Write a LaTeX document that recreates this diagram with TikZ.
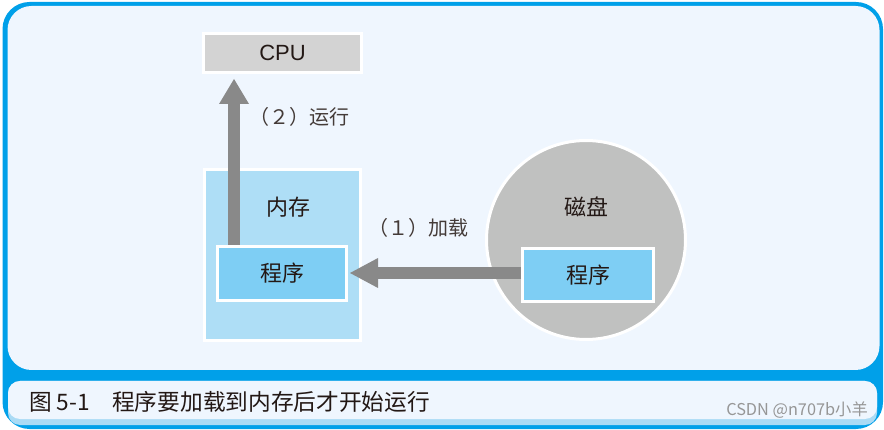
\documentclass[tikz,border=0pt]{standalone}
\usepackage{fontspec}
\setmainfont{Liberation Sans}
\newfontfamily\cjk{Noto Sans CJK SC}
\usetikzlibrary{calc}
\definecolor{frameblue}{RGB}{0,160,233}
\definecolor{panel}{RGB}{239,246,254}
\definecolor{capshade}{RGB}{170,219,245}
\definecolor{cpugray}{RGB}{211,211,211}
\definecolor{memblue}{RGB}{174,222,246}
\definecolor{progblue}{RGB}{126,206,244}
\definecolor{diskgray}{RGB}{192,193,192}
\definecolor{arrowgray}{RGB}{137,137,137}
\definecolor{textdark}{RGB}{35,24,21}
\definecolor{wmgray}{RGB}{150,150,150}
\begin{document}
\begin{tikzpicture}[x=1pt,y=-1pt,
  box/.style={draw=white, line width=3pt, inner sep=0pt, outer sep=0pt, text=textdark},
  cjkbig/.style={font=\cjk\fontsize{22}{24}\selectfont, text=textdark, inner sep=0pt},
  cjklabel/.style={font=\cjk\fontsize{20}{22}\selectfont, text=textdark!85, inner sep=0pt, anchor=west},
  shaft/.style={draw=arrowgray, line width=12pt},
  head/.style={fill=arrowgray}]
\useasboundingbox (0,0) rectangle (884,430);
% frame
\fill[frameblue, rounded corners=27pt] (2.5,2) rectangle (883,429);
\fill[panel, rounded corners=24pt] (7.5,6) rectangle (879.5,370);
\fill[capshade, rounded corners=12pt] (8,381) rectangle (877,425);
\fill[panel, rounded corners=12pt] (8,381) rectangle (877,419);
% nodes
\node[box, fill=cpugray, minimum width=158pt, minimum height=39pt,
      font=\fontsize{22}{24}\selectfont] (cpu) at (282.5,53) {CPU};
\node[box, fill=memblue, minimum width=156pt, minimum height=171pt] (mem) at (282.5,255) {};
\node[cjkbig] (memlabel) at (288,207) {内存};
\node[circle, draw=white, line width=3pt, fill=diskgray, minimum size=199pt,
      inner sep=0pt, outer sep=0pt] (disk) at (586,240) {};
\node[cjkbig] (disklabel) at (586,207) {磁盘};
\node[box, cjkbig, fill=progblue, minimum width=129pt, minimum height=54pt] (memprog) at (282,273.5) {程序};
\node[box, cjkbig, fill=progblue, minimum width=131pt, minimum height=53pt] (diskprog) at (588,275) {程序};
% arrows
\coordinate (runx) at (234,0);
\coordinate (loady) at (0,273);
\coordinate (runfoot) at ($(memprog.north -| runx)+(0,-1.5)$);
\coordinate (runtip) at ($(cpu.south -| runx)+(0,6.5)$);
\draw[shaft] (runfoot) -- ($(runtip)+(0,25)$);
\fill[head] (runtip) -- ++(-15,25) -- ++(30,0) -- cycle;
\coordinate (loadfoot) at ($(diskprog.west |- loady)+(-1.5,0)$);
\coordinate (loadtip) at ($(memprog.east |- loady)+(3.5,0)$);
\draw[shaft] (loadfoot) -- ($(loadtip)+(28,0)$);
\fill[head] (loadtip) -- ++(28,-15) -- ++(0,30) -- cycle;
% labels
\node[cjklabel] (runlabel) at (249,117) {（２）运行};
\node[cjklabel] (loadlabel) at (368,228) {（１）加载};
% caption
\node[anchor=west, inner sep=0pt, text=textdark, font=\cjk\fontsize{22.7}{25}\selectfont] (capnum) at (29,402) {图 5-1};
\node[anchor=west, inner sep=0pt, text=textdark, font=\cjk\fontsize{22.7}{25}\selectfont] (captext) at (112,402) {程序要加载到内存后才开始运行};
\node[anchor=east, inner sep=0pt, text=wmgray, font=\cjk\fontsize{16.3}{17}\selectfont] (wm) at (868,410) {CSDN @n707b小羊};
\end{tikzpicture}
\end{document}
